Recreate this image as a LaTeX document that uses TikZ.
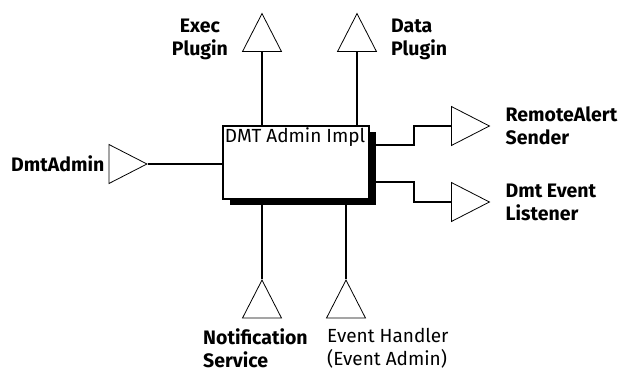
\documentclass[tikz,border=0pt]{standalone}
\usepackage{fontspec}
\setmainfont{Fira Sans}
\usetikzlibrary{positioning,shapes.geometric,shadows}

\tikzset{
  socket/.style={isosceles triangle, isosceles triangle stretches, draw, line width=0.8pt,
    inner sep=0pt, minimum width=39pt, minimum height=38pt},
  upsocket/.style={socket, shape border rotate=90},
  rightsocket/.style={socket},
  wire/.style={line width=1.6pt},
  lbl/.style={font=\fontsize{19.5}{23}\selectfont\bfseries, align=left, inner sep=0pt},
  plainlbl/.style={font=\fontsize{19}{23}\selectfont, align=left, inner sep=0pt},
  implbox/.style={draw, fill=white, line width=1.6pt, minimum width=146pt, minimum height=73pt,
    drop shadow={shadow xshift=7pt, shadow yshift=-6pt, fill=black, opacity=1}}
}

\begin{document}
\begin{tikzpicture}[x=1pt, y=-1pt]
    \useasboundingbox (0,0) rectangle (623,372);

    % central component
    \node[implbox] (impl) at (296,162.5) {};
    \node[plainlbl, anchor=north west, inner sep=2.5pt] (impltitle) at (impl.north west) {DMT Admin Impl};

    % sockets
    \node[upsocket, anchor=south] (exec) at (262,52) {};
    \node[upsocket, anchor=south] (data) at (357,52) {};
    \node[rightsocket, anchor=west] (ras) at (451,126) {};
    \node[rightsocket, anchor=west] (del) at (451,202) {};
    \node[rightsocket, anchor=east] (dmta) at (148,164) {};
    \node[upsocket, anchor=north] (notif) at (262,279) {};
    \node[upsocket, anchor=north] (evh) at (346,279) {};

    % wires
    \draw[wire] (exec.south) -- (exec.south |- impl.north);
    \draw[wire] (data.south) -- (data.south |- impl.north);
    \draw[wire] (dmta.east) -- (dmta.east -| impl.west);
    \draw[wire] (notif.north) -- (notif.north |- impl.south);
    \draw[wire] (evh.north) -- (evh.north |- impl.south);
    \draw[wire] ([yshift=-20pt]impl.north east) -- ++(44,0) |- (ras.west);
    \draw[wire] ([yshift=-57pt]impl.north east) -- ++(44,0) |- (del.west);

    % labels
    \node[lbl, align=center, left=20pt of exec] (execlbl) {Exec\\Plugin};
    \node[lbl, right=20pt of data] (datalbl) {Data\\Plugin};
    \node[lbl, right=15pt of ras] (raslbl) {RemoteAlert\\Sender};
    \node[lbl, right=15pt of del] (dellbl) {Dmt Event\\Listener};
    \node[lbl, left=4pt of dmta] (dmtalbl) {DmtAdmin};
    \node[lbl, anchor=north west] (notiflbl) at ([xshift=-59pt, yshift=-10pt]notif.south) {Notification\\Service};
    \node[plainlbl, anchor=north west] (evhlbl) at ([xshift=-19pt, yshift=-10pt]evh.south) {Event Handler\\(Event Admin)};
\end{tikzpicture}
\end{document}
